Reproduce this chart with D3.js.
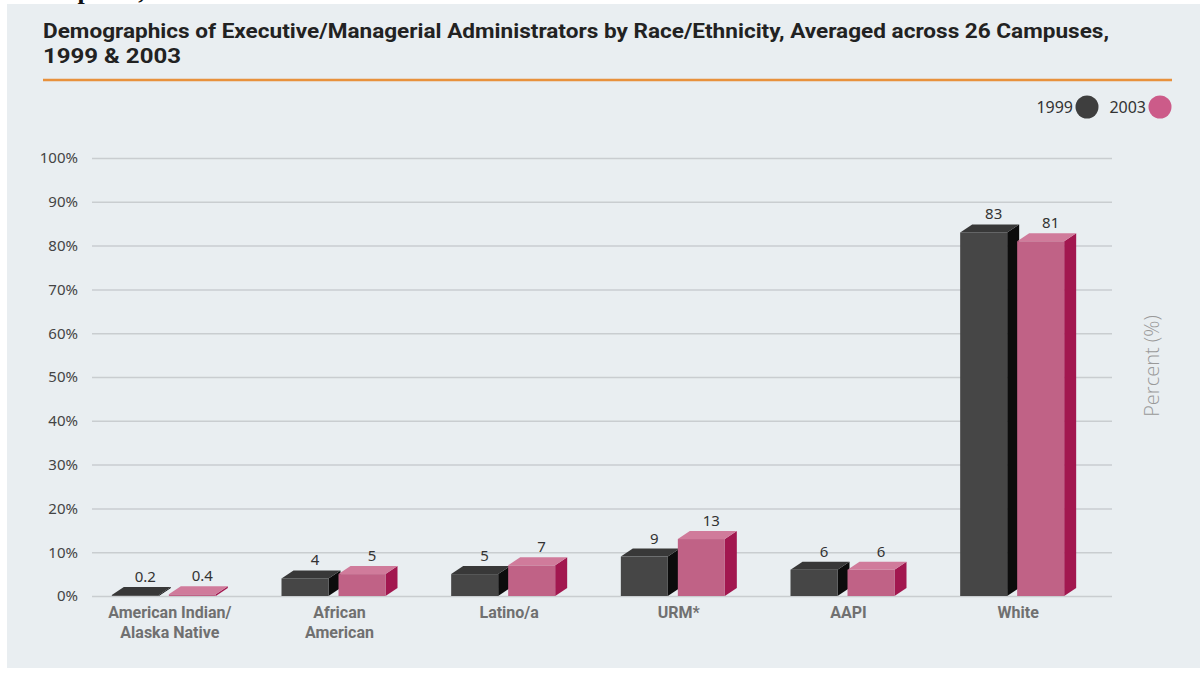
<!DOCTYPE html>
<html>
<head>
<meta charset="utf-8">
<script src="https://cdn.jsdelivr.net/npm/d3@7"></script>
<style>
  html, body { margin: 0; padding: 0; background: #ffffff; }
  svg { display: block; }
</style>
</head>
<body>
<svg id="chart" width="1200" height="673"></svg>
<script>
// Categories and values (percent of executive/managerial administrators)
const categories = ["American Indian/\nAlaska Native", "African\nAmerican", "Latino/a", "URM*", "AAPI", "White"];
const values1999 = [0.2, 4, 5, 9, 6, 83];
const values2003 = [0.4, 5, 7, 13, 6, 81];
const valueLabels1999 = ["0.2", "4", "5", "9", "6", "83"];
const valueLabels2003 = ["0.4", "5", "7", "13", "6", "81"];
const seriesNames = ["1999", "2003"];
const yTicks = [0, 10, 20, 30, 40, 50, 60, 70, 80, 90, 100];

const svg = d3.select("#chart");

// Tail of the preceding page's heading, mostly hidden behind the panel
svg.append("text").attr("x", 24).attr("y", -1)
  .attr("font-family", "Liberation Serif").attr("font-weight", "bold").attr("font-size", 26)
  .attr("fill", "#111").text("Campuses,");

// Page panel
svg.append("rect").attr("x", 7).attr("y", 4).attr("width", 1193).attr("height", 664).attr("fill", "#e9eef1");

// Title
const titleFont = "Roboto, 'Liberation Sans', sans-serif";
svg.append("text").attr("x", 43).attr("y", 38)
  .attr("font-family", titleFont).attr("font-weight", 700).attr("font-size", 20).attr("fill", "#222")
  .attr("textLength", 1066).attr("lengthAdjust", "spacingAndGlyphs")
  .text("Demographics of Executive/Managerial Administrators by Race/Ethnicity, Averaged across 26 Campuses,");
svg.append("text").attr("x", 43).attr("y", 63)
  .attr("font-family", titleFont).attr("font-weight", 700).attr("font-size", 20).attr("fill", "#222")
  .attr("textLength", 138).attr("lengthAdjust", "spacingAndGlyphs")
  .text("1999 & 2003");
svg.append("line").attr("x1", 43).attr("x2", 1172).attr("y1", 80).attr("y2", 80)
  .attr("stroke", "#e8913c").attr("stroke-width", 2.5);

// Scales
const x = d3.scaleBand().domain(categories).range([85, 1103]);
const y = d3.scaleLinear().domain([0, 100]).range([596, 158]);

// Grid lines + y axis labels
const yAxis = d3.axisLeft(y).tickValues(yTicks).tickSize(-(1112 - 92)).tickFormat(d => d + "%");
const gy = svg.append("g").attr("transform", "translate(92,0)").call(yAxis);
gy.select(".domain").remove();
gy.selectAll(".tick line").attr("stroke", "#c9cdd0").attr("stroke-width", 1.5);
gy.selectAll(".tick text").attr("font-family", "'Noto Sans', sans-serif").attr("font-size", 15)
  .attr("fill", "#444").attr("x", -14);

// 3D bars
const barW = 47, dx = 12, dy = 8;
const palettes = [
  { front: "#464646", top: "#383838", side: "#0c0c0c" },
  { front: "#c06286", top: "#d07b9b", side: "#a2174f" }
];
const offsets = [-58, -1];
const series = [values1999, values2003];
const labelSets = [valueLabels1999, valueLabels2003];

const bars = svg.append("g");
categories.forEach((cat, i) => {
  const c = x(cat) + x.bandwidth() / 2;
  series.forEach((vals, s) => {
    const v = vals[i];
    const x0 = c + offsets[s], x1 = x0 + barW;
    const yt = y(v), yb = y(0);
    const p = palettes[s];
    const g = bars.append("g");
    // side face
    g.append("path")
      .attr("d", `M${x1},${yb} L${x1 + dx},${yb - dy} L${x1 + dx},${yt - dy} L${x1},${yt} Z`)
      .attr("fill", p.side);
    // front face
    g.append("rect").attr("x", x0).attr("y", yt).attr("width", barW).attr("height", Math.max(0, yb - yt))
      .attr("fill", p.front);
    // top face
    g.append("path")
      .attr("d", `M${x0},${yt} L${x0 + dx},${yt - dy} L${x1 + dx},${yt - dy} L${x1},${yt} Z`)
      .attr("fill", p.top);
    // value label
    g.append("text").attr("x", x0 + barW / 2 + 10).attr("y", yt - dy - 5)
      .attr("text-anchor", "middle").attr("font-family", "'Noto Sans', sans-serif").attr("font-size", 15)
      .attr("fill", "#333").text(labelSets[s][i]);
  });
});

// Category labels
categories.forEach(cat => {
  const c = x(cat) + x.bandwidth() / 2;
  const t = svg.append("text").attr("text-anchor", "middle")
    .attr("font-family", "Roboto, 'Liberation Sans', sans-serif").attr("font-weight", 700)
    .attr("font-size", 16).attr("fill", "#707070");
  cat.split("\n").forEach((line, k) => {
    t.append("tspan").attr("x", c).attr("y", 618 + k * 20).text(line);
  });
});

// Legend
const legend = svg.append("g");
const legendItems = [
  { name: seriesNames[0], tx: 1073, cx: 1087, color: "#3e3e3e" },
  { name: seriesNames[1], tx: 1146, cx: 1160, color: "#cc5b89" }
];
legendItems.forEach(it => {
  legend.append("text").attr("x", it.tx).attr("y", 113).attr("text-anchor", "end")
    .attr("font-family", "'Noto Sans', sans-serif").attr("font-size", 16).attr("fill", "#333").text(it.name);
  legend.append("circle").attr("cx", it.cx).attr("cy", 107).attr("r", 11.5).attr("fill", it.color);
});

// Y axis title
svg.append("text").attr("transform", "translate(1159,366) rotate(-90)").attr("text-anchor", "middle")
  .attr("font-family", "'Open Sans', sans-serif").attr("font-weight", 300).attr("font-size", 20)
  .attr("fill", "#999").text("Percent (%)");
</script>
</body>
</html>
